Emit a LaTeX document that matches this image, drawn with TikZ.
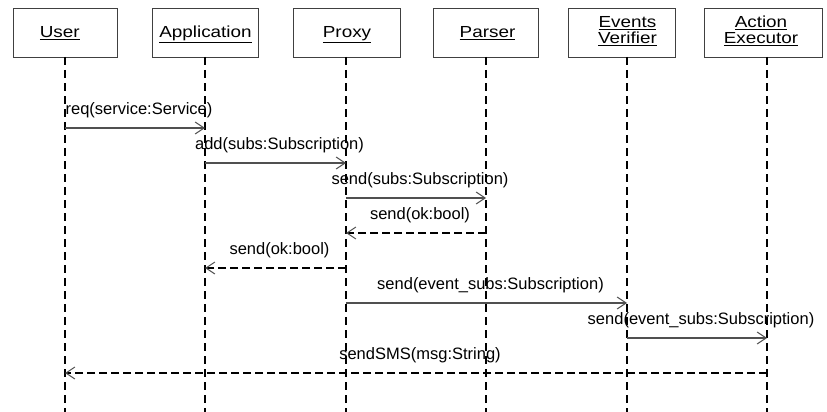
\documentclass[tikz,border=0pt]{standalone}
\usepackage{fontspec}
\setmainfont{Liberation Sans}
\usetikzlibrary{arrows.meta}
\definecolor{boxgray}{HTML}{404040}
\definecolor{msggray}{HTML}{505050}
% object names: underlined and slightly widened
\newcommand{\objname}[1]{\scalebox{1.18}[1]{\underline{#1}}}
\begin{document}
\begin{tikzpicture}[x=1pt,y=-1pt,
  objbox/.style={draw=boxgray, line width=0.9pt, fill=white, minimum height=49pt, inner sep=0pt},
  objtext/.style={font=\fontsize{16}{16.5}\selectfont, inner sep=0pt, align=center},
  life/.style={line width=1.8pt, dash pattern=on 8pt off 5pt},
  call/.style={draw=msggray, line width=1.1pt,
    -{Straight Barb[length=9pt,width=12pt,line width=1pt]}},
  reply/.style={line width=1.8pt, dash pattern=on 8pt off 4pt,
    -{Straight Barb[length=9pt,width=12pt,line width=1pt,color=msggray]}},
  msg/.style={font=\fontsize{16.5}{18}\selectfont, inner sep=0pt, anchor=base,
    midway, xshift=4pt, yshift=14pt}
]
\useasboundingbox (0,0) rectangle (827,412);

% object boxes
\node[objbox, minimum width=104pt] (uB)  at (65,32.5) {};
\node[objbox, minimum width=106pt] (aB)  at (205,32.5) {};
\node[objbox, minimum width=107pt] (pB)  at (346.5,32.5) {};
\node[objbox, minimum width=105pt] (paB) at (485.5,32.5) {};
\node[objbox, minimum width=107pt] (eB)  at (621.5,32.5) {};
\node[objbox, minimum width=118pt] (xB)  at (763,32.5) {};

% object names
\node[objtext, anchor=base] (uT)  at (59.7,37.5) {\objname{User}};
\node[objtext, anchor=base] (aT)  at (205.5,37.5) {\objname{Application}};
\node[objtext, anchor=base] (pT)  at (347,37.5) {\objname{Proxy}};
\node[objtext, anchor=base] (paT) at (487.5,37.5) {\objname{Parser}};
\node[objtext] (eT) at (627.5,31) {\objname{Events}\\\objname{Verifier}};
\node[objtext] (xT) at (761,31) {\objname{Action}\\\objname{Executor}};

% lifeline tops and bottoms
\coordinate (lU)  at (65,57);   \coordinate (bU)  at (65,412);
\coordinate (lA)  at (205,57);  \coordinate (bA)  at (205,412);
\coordinate (lP)  at (346,57);  \coordinate (bP)  at (346,412);
\coordinate (lPa) at (486,57);  \coordinate (bPa) at (486,412);
\coordinate (lE)  at (627,57);  \coordinate (bE)  at (627,412);
\coordinate (lX)  at (767,57);  \coordinate (bX)  at (767,412);

\foreach \t/\b in {lU/bU, lA/bA, lP/bP, lPa/bPa, lE/bE, lX/bX}
  \draw[life] (\t) -- (\b);

% message rows
\coordinate (r1) at (0,128);
\coordinate (r2) at (0,163);
\coordinate (r3) at (0,198);
\coordinate (r4) at (0,233);
\coordinate (r5) at (0,268);
\coordinate (r6) at (0,303);
\coordinate (r7) at (0,338);
\coordinate (r8) at (0,373);

% messages
\draw[call]  (lU |- r1) -- (lA |- r1) node[msg] {req(service:Service)};
\draw[call]  (lA |- r2) -- (lP |- r2) node[msg] {add(subs:Subscription)};
\draw[call]  (lP |- r3) -- (lPa |- r3) node[msg] {send(subs:Subscription)};
\draw[reply] (lPa |- r4) -- (lP |- r4) node[msg] {send(ok:bool)};
\draw[reply] (lP |- r5) -- (lA |- r5) node[msg] {send(ok:bool)};
\draw[call]  (lP |- r6) -- (lE |- r6) node[msg] {send(event\_subs:Subscription)};
\draw[call]  (lE |- r7) -- (lX |- r7) node[msg] {send(event\_subs:Subscription)};
\draw[reply] (lX |- r8) -- (lU |- r8) node[msg] {sendSMS(msg:String)};
\end{tikzpicture}
\end{document}
